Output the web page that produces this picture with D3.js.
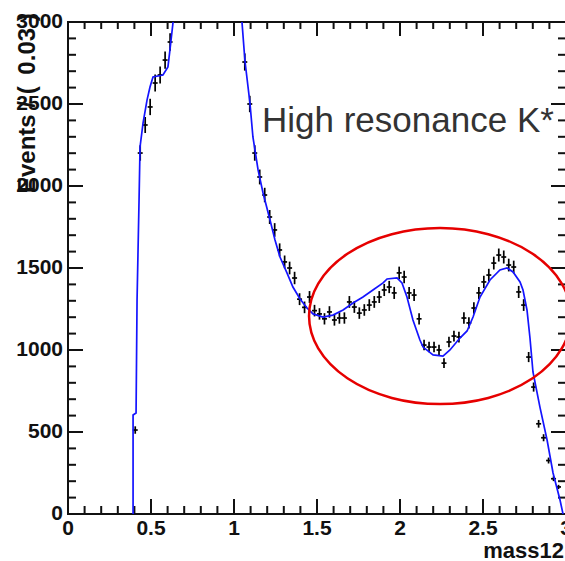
<!DOCTYPE html>
<html>
<head>
<meta charset="utf-8">
<script src="https://cdn.jsdelivr.net/npm/d3@7"></script>
<style>
  html, body { margin: 0; padding: 0; background: #fff; }
  svg { display: block; }
  text { font-family: "Liberation Sans", Arial, sans-serif; }
</style>
</head>
<body>
<div id="container"></div>
<script>
// Histogram bins (centres, bin width 0.03) and their entries.
// Bins between ~0.64 and ~1.04 are above the frame and are not shown.
const binMass = [
  0.405, 0.435, 0.465, 0.495, 0.525, 0.555, 0.585, 0.615,
  1.065, 1.095, 1.125, 1.155, 1.185, 1.215, 1.245, 1.275, 1.305, 1.335,
  1.365, 1.395, 1.425, 1.455, 1.485, 1.515, 1.545, 1.575, 1.605, 1.635,
  1.665, 1.695, 1.725, 1.755, 1.785, 1.815, 1.845, 1.875, 1.905, 1.935,
  1.965, 1.995, 2.025, 2.055, 2.085, 2.115, 2.145, 2.175, 2.205, 2.235,
  2.265, 2.295, 2.325, 2.355, 2.385, 2.415, 2.445, 2.475, 2.505, 2.535,
  2.565, 2.595, 2.625, 2.655, 2.685, 2.715, 2.745, 2.775, 2.805, 2.835,
  2.865, 2.895, 2.925, 2.955
];
const binEvents = [
  512, 2201, 2372, 2482, 2628, 2677, 2768, 2878,
  2756, 2500, 2201, 2055, 1945, 1811, 1732, 1610, 1537, 1500,
  1439, 1310, 1260, 1323, 1240, 1220, 1190, 1232, 1183, 1195,
  1195, 1293, 1262, 1225, 1244, 1274, 1293, 1323, 1366, 1384,
  1348, 1470, 1445, 1348, 1335, 1190, 1030, 1018, 1018, 1000,
  920, 1049, 1085, 1079, 1195, 1165, 1256, 1348, 1415, 1457,
  1530, 1579, 1567, 1518, 1506, 1354, 1274, 957, 774, 550,
  465, 326, 215, 165
];

// Fit curve, low-mass part (leaves the frame at the top)
const fitLowX = [0.392, 0.392, 0.410, 0.416, 0.428, 0.434, 0.452, 0.476, 0.494,
  0.512, 0.572, 0.602, 0.614, 0.633, 0.645];
const fitLowY = [0, 604, 616, 1305, 1915, 2238, 2384, 2524, 2604,
  2665, 2677, 2726, 2829, 3000, 3300];

// Fit curve, high-mass part (comes back into the frame)
const fitHighX = [1.035, 1.048, 1.066, 1.096, 1.114, 1.145, 1.175, 1.217, 1.247,
  1.277, 1.319, 1.355, 1.398, 1.440, 1.476, 1.536, 1.596, 1.657, 1.717,
  1.777, 1.837, 1.898, 1.922, 1.982, 2.012, 2.042, 2.078, 2.120, 2.139,
  2.199, 2.259, 2.301, 2.361, 2.404, 2.440, 2.482, 2.542, 2.602, 2.645,
  2.681, 2.723, 2.741, 2.765, 2.783, 2.801, 2.843, 2.886, 2.922, 2.964, 2.982];
const fitHighY = [3300, 3000, 2762, 2506, 2299, 2098, 1957, 1793, 1671,
  1567, 1470, 1384, 1311, 1256, 1220, 1201, 1213, 1244, 1287,
  1323, 1366, 1409, 1433, 1439, 1409, 1323, 1183, 1061, 1018,
  970, 963, 1000, 1073, 1116, 1201, 1323, 1427, 1488, 1500,
  1476, 1415, 1366, 1244, 1073, 866, 652, 451, 250, 85, 0];

// Axis ticks
const xMajor = [0, 0.5, 1, 1.5, 2, 2.5, 3];
const xMinor = [0.1, 0.2, 0.3, 0.4, 0.6, 0.7, 0.8, 0.9, 1.1, 1.2, 1.3, 1.4,
  1.6, 1.7, 1.8, 1.9, 2.1, 2.2, 2.3, 2.4, 2.6, 2.7, 2.8, 2.9];
const yMajor = [0, 500, 1000, 1500, 2000, 2500, 3000];
const yMinor = [100, 200, 300, 400, 600, 700, 800, 900, 1100, 1200, 1300, 1400,
  1600, 1700, 1800, 1900, 2100, 2200, 2300, 2400, 2600, 2700, 2800, 2900];

// Annotation: ellipse around the high resonance region (data units)
const ringCentre = [2.241, 1207];
const ringRadius = [0.789, 537];
const noteText = "High resonance K*";

const W = 565, H = 561;
const mLeft = 68, mRight = 566, mTop = 22, mBottom = 514;

const x = d3.scaleLinear().domain([0, 3]).range([mLeft, mRight]);
const y = d3.scaleLinear().domain([0, 3000]).range([mBottom, mTop]);

const svg = d3.create("svg").attr("width", W).attr("height", H);
document.getElementById("container").append(svg.node());

svg.append("defs").append("clipPath").attr("id", "frame")
  .append("rect")
  .attr("x", mLeft).attr("y", mTop)
  .attr("width", mRight - mLeft).attr("height", mBottom - mTop);

// y axis title (drawn first, tick labels sit over it like in ROOT)
const yTitle = svg.append("text")
  .attr("transform", `translate(35,193) rotate(-90)`)
  .attr("font-size", 24)
  .attr("font-weight", "bold")
  .attr("fill", "#111")
  .text("Events / (");
yTitle.append("tspan").attr("dx", 5).text(" 0.03 )");

// ticks on all four sides, pointing inwards, drawn as thin filled bars
const tickW = 2;
const ticks = svg.append("g").attr("fill", "#111");
function addXTicks(values, len) {
  values.forEach(v => {
    ticks.append("rect")
      .attr("x", x(v) - tickW / 2).attr("width", tickW)
      .attr("y", mBottom - len).attr("height", len);
    ticks.append("rect")
      .attr("x", x(v) - tickW / 2).attr("width", tickW)
      .attr("y", mTop).attr("height", len - 1);
  });
}
function addYTicks(values, len) {
  values.forEach(v => {
    ticks.append("rect")
      .attr("x", mLeft).attr("width", len)
      .attr("y", y(v) - tickW / 2).attr("height", tickW);
    ticks.append("rect")
      .attr("x", mRight - len).attr("width", len)
      .attr("y", y(v) - tickW / 2).attr("height", tickW);
  });
}
addXTicks(xMinor, 8);
addXTicks(xMajor, 15);
addYTicks(yMinor, 8);
addYTicks(yMajor, 15);

// frame
svg.append("rect")
  .attr("x", mLeft).attr("y", mTop)
  .attr("width", mRight - mLeft).attr("height", mBottom - mTop)
  .attr("fill", "none")
  .attr("stroke", "#111")
  .attr("stroke-width", 2);

// tick labels
const fmtX = d3.format("~g");
svg.append("g")
  .selectAll("text").data(xMajor).join("text")
  .attr("x", d => x(d)).attr("y", 535)
  .attr("text-anchor", "middle")
  .attr("font-size", 21).attr("font-weight", "bold").attr("fill", "#111")
  .text(d => fmtX(d));
svg.append("g")
  .selectAll("text").data(yMajor).join("text")
  .attr("x", mLeft - 5).attr("y", d => y(d) + 6)
  .attr("text-anchor", "end")
  .attr("font-size", 21).attr("font-weight", "bold").attr("fill", "#111")
  .text(d => d);

// x axis title
svg.append("text")
  .attr("x", 564).attr("y", 558)
  .attr("text-anchor", "end")
  .attr("font-size", 22)
  .attr("font-weight", "bold")
  .attr("fill", "#111")
  .text("mass12");

const plot = svg.append("g").attr("clip-path", "url(#frame)");

// data points: horizontal bar = bin width, vertical bar = sqrt(N)
const halfBin = 0.015;
const pts = plot.append("g").attr("stroke", "#000").attr("stroke-width", 1.7);
binMass.forEach((m, i) => {
  const n = binEvents[i];
  const e = Math.sqrt(n);
  pts.append("line")
    .attr("x1", x(m - halfBin)).attr("x2", x(m + halfBin))
    .attr("y1", y(n)).attr("y2", y(n));
  pts.append("line")
    .attr("x1", x(m)).attr("x2", x(m))
    .attr("y1", y(n - e)).attr("y2", y(n + e));
});

// fit curve
const line = d3.line().x(d => x(d[0])).y(d => y(d[1]));
plot.append("path")
  .datum(d3.zip(fitLowX, fitLowY))
  .attr("d", line)
  .attr("fill", "none")
  .attr("stroke", "#1414ff")
  .attr("stroke-width", 1.7);
plot.append("path")
  .datum(d3.zip(fitHighX, fitHighY))
  .attr("d", line)
  .attr("fill", "none")
  .attr("stroke", "#1414ff")
  .attr("stroke-width", 1.7);

// annotation
svg.append("ellipse")
  .attr("cx", x(ringCentre[0]))
  .attr("cy", y(ringCentre[1]))
  .attr("rx", x(ringCentre[0] + ringRadius[0]) - x(ringCentre[0]))
  .attr("ry", y(ringCentre[1]) - y(ringCentre[1] + ringRadius[1]))
  .attr("fill", "none")
  .attr("stroke", "#e60000")
  .attr("stroke-width", 2.5);

svg.append("text")
  .attr("x", 262).attr("y", 132)
  .attr("font-size", 35)
  .attr("fill", "#333")
  .text(noteText);
</script>
</body>
</html>
